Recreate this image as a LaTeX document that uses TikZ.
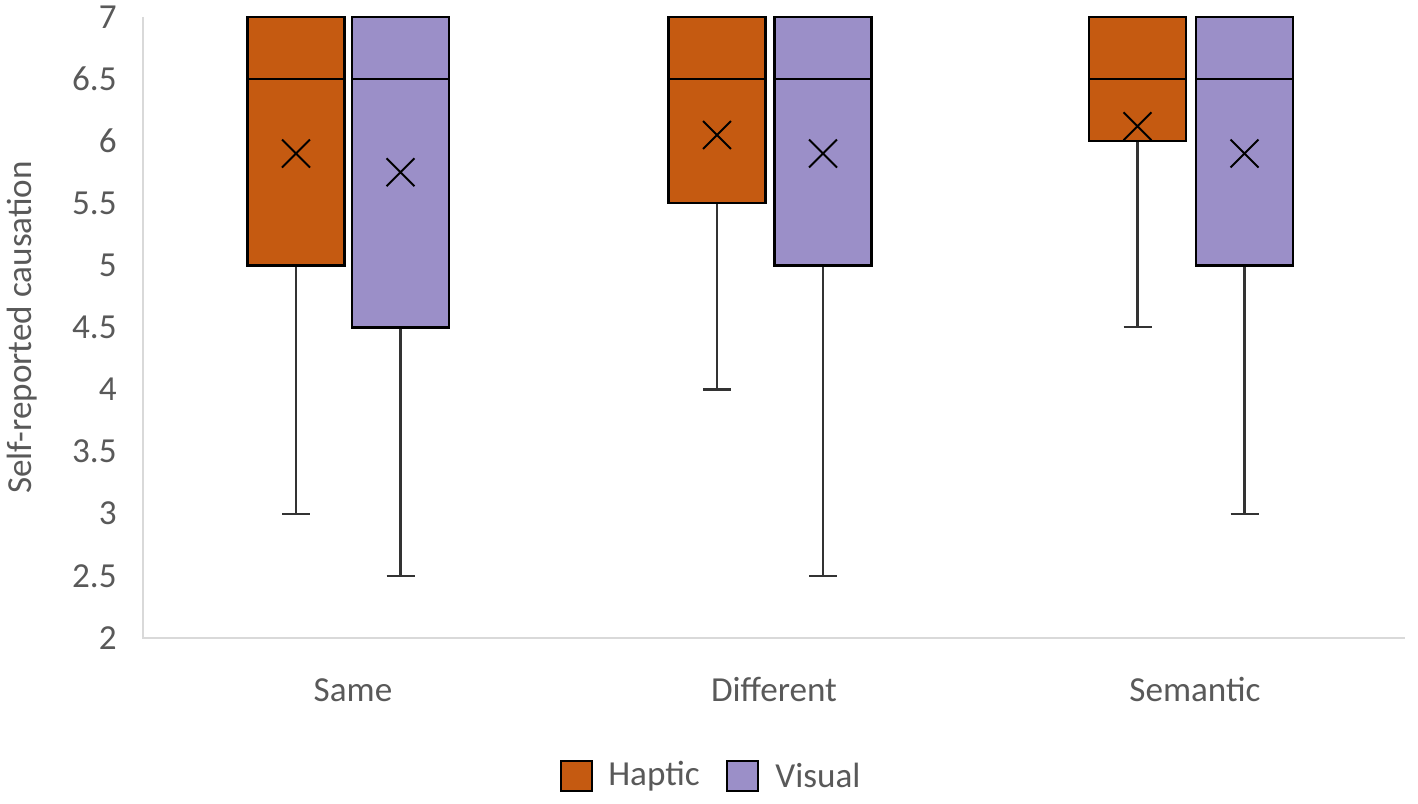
\documentclass[tikz,border=0pt]{standalone}
\usepackage{fontspec}
\setmainfont{Carlito}
\usetikzlibrary{shapes.misc}
\definecolor{haptic}{HTML}{C55A11}
\definecolor{visual}{HTML}{9B8FC8}
\definecolor{axisgray}{HTML}{D9D9D9}
\definecolor{textgray}{HTML}{595959}
\begin{document}
\begin{tikzpicture}[x=0.02cm, y=2.484cm,
  boxH/.style={fill=haptic, draw=black, line width=1.4pt},
  boxV/.style={fill=visual, draw=black, line width=1.4pt},
  whisk/.style={draw=black!80, line width=1.2pt},
  median/.style={draw=black, line width=1.2pt},
  meanmark/.style={cross out, draw=black, line width=1.1pt, minimum size=0.52cm, inner sep=0pt},
  lbl/.style={text=textgray, font=\fontsize{20}{24}\selectfont, inner sep=0pt}]
\useasboundingbox (0,0.6634) rectangle (1418,7.1369);
% axes
\draw[axisgray, line width=1.1pt] (143,7) -- (143,2) -- (1405,2);
\node [lbl, anchor=east] (t7) at (117,7) {7};
\node [lbl, anchor=east] (t65) at (117,6.5) {6.5};
\node [lbl, anchor=east] (t6) at (117,6) {6};
\node [lbl, anchor=east] (t55) at (117,5.5) {5.5};
\node [lbl, anchor=east] (t5) at (117,5) {5};
\node [lbl, anchor=east] (t45) at (117,4.5) {4.5};
\node [lbl, anchor=east] (t4) at (117,4) {4};
\node [lbl, anchor=east] (t35) at (117,3.5) {3.5};
\node [lbl, anchor=east] (t3) at (117,3) {3};
\node [lbl, anchor=east] (t25) at (117,2.5) {2.5};
\node [lbl, anchor=east] (t2) at (117,2) {2};
\node [lbl, rotate=90] (ylab) at (22,4.5) {Self-reported causation};
% Same
\draw[whisk] (296,5) -- (296,3);
\draw[whisk] (282,3) -- (310,3);
\draw[boxH] (247.5,5) rectangle (344.5,7);
\draw[median] (247.5,6.5) -- (344.5,6.5);
\node [meanmark] (mSH) at (296,5.9) {};
\draw[whisk] (400.5,4.5) -- (400.5,2.5);
\draw[whisk] (386.5,2.5) -- (414.5,2.5);
\draw[boxV] (352,4.5) rectangle (449,7);
\draw[median] (352,6.5) -- (449,6.5);
\node [meanmark] (mSV) at (400.5,5.75) {};
% Different
\draw[whisk] (717,5.5) -- (717,4);
\draw[whisk] (703,4) -- (731,4);
\draw[boxH] (668.5,5.5) rectangle (765.5,7);
\draw[median] (668.5,6.5) -- (765.5,6.5);
\node [meanmark] (mDH) at (717,6.05) {};
\draw[whisk] (823,5) -- (823,2.5);
\draw[whisk] (809,2.5) -- (837,2.5);
\draw[boxV] (774.5,5) rectangle (871.5,7);
\draw[median] (774.5,6.5) -- (871.5,6.5);
\node [meanmark] (mDV) at (823,5.9) {};
% Semantic
\draw[whisk] (1137.5,6) -- (1137.5,4.5);
\draw[whisk] (1123.5,4.5) -- (1151.5,4.5);
\draw[boxH] (1089,6) rectangle (1186,7);
\draw[median] (1089,6.5) -- (1186,6.5);
\node [meanmark] (mEH) at (1137.5,6.12) {};
\draw[whisk] (1244.5,5) -- (1244.5,3);
\draw[whisk] (1230.5,3) -- (1258.5,3);
\draw[boxV] (1196,5) rectangle (1293,7);
\draw[median] (1196,6.5) -- (1293,6.5);
\node [meanmark] (mEV) at (1244.5,5.9) {};
% category labels
\node [lbl] (same) at (353,1.581) {Same};
\node [lbl] (diff) at (774,1.581) {Different};
\node [lbl] (sem) at (1195,1.581) {Semantic};
% legend
\draw[boxH, line width=1.2pt] (561,0.768) rectangle (592,1.010);
\node [lbl, anchor=west] (hap) at (608,0.889) {Haptic};
\draw[boxV, line width=1.2pt] (727,0.768) rectangle (758,1.010);
\node [lbl, anchor=west] (vis) at (775,0.889) {Visual};
\end{tikzpicture}
\end{document}
